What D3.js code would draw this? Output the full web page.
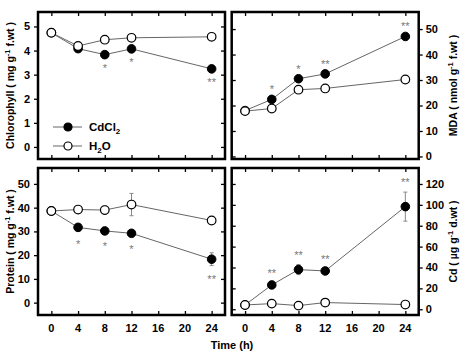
<!DOCTYPE html>
<html>
<head>
<meta charset="utf-8">
<script src="https://cdn.jsdelivr.net/npm/d3@7"></script>
<style>
  body { margin: 0; background: #fff; }
  svg { display: block; font-family: "Liberation Sans", Arial, sans-serif; }
</style>
</head>
<body>
<div class="chart-container"></div>
<script>
// --- Data ---
const times = [0, 4, 8, 12, 24];
const xTicks = [0, 4, 8, 12, 16, 20, 24];

const chlCd = [4.74, 4.08, 3.83, 4.07, 3.24];
const chlH2O = [4.74, 4.19, 4.45, 4.53, 4.57];
const chlStars = ["", "", "*", "*", "**"];

const mdaCd = [18, 22.4, 30.5, 32.4, 47.1];
const mdaH2O = [17.8, 18.8, 26.2, 26.7, 30.2];
const mdaStars = ["", "*", "*", "**", "**"];

const protCd = [38.6, 31.7, 30.2, 29.2, 18.3];
const protCdErr = [0.6, 1.5, 1.0, 1.0, 2.7];
const protH2O = [38.6, 39.2, 39.0, 41.3, 34.6];
const protH2OErr = [0.5, 0.8, 1.8, 4.7, 0.8];
const protStars = ["", "*", "*", "*", "**"];

const cdCd = [4.1, 23.3, 38, 36.7, 98.3];
const cdCdErr = [0, 1.5, 4.8, 2, 13.9];
const cdH2O = [4.1, 5.4, 3.5, 6.4, 4.5];
const cdStars = ["", "**", "**", "**", "**"];

const legendLabels = ["CdCl", "H"];

// --- Layout ---
const W = 466, H = 353;
const panels = [
    { x0: 38, x1: 225, y0: 12, y1: 159, yDomain: [-0.5, 5.6], yTicks: [0, 1, 2, 3, 4, 5],
      side: "left", cd: chlCd, h2o: chlH2O, cdErr: null, h2oErr: null, stars: chlStars, starPos: "below",
      title: ["Chlorophyll ( mg g", "-1", " f.wt )"], xLabels: false },
    { x0: 231.7, x1: 418.7, y0: 12, y1: 159, yDomain: [-1, 56.7], yTicks: [0, 10, 20, 30, 40, 50],
      side: "right", cd: mdaCd, h2o: mdaH2O, cdErr: null, h2oErr: null, stars: mdaStars, starPos: "above",
      title: ["MDA ( nmol g", "-1", " f.wt )"], xLabels: false },
    { x0: 38, x1: 225, y0: 168, y1: 315, yDomain: [-5.2, 56.7], yTicks: [0, 10, 20, 30, 40, 50],
      side: "left", cd: protCd, h2o: protH2O, cdErr: protCdErr, h2oErr: protH2OErr, stars: protStars, starPos: "below",
      title: ["Protein ( mg g", "-1", " f.wt )"], xLabels: true },
    { x0: 231.7, x1: 418.7, y0: 168, y1: 315, yDomain: [-5.5, 135.3], yTicks: [0, 20, 40, 60, 80, 100, 120],
      side: "right", cd: cdCd, h2o: cdH2O, cdErr: cdCdErr, h2oErr: null, stars: cdStars, starPos: "above",
      title: ["Cd ( \u00b5g g", "-1", " d.wt )"], xLabels: true }
];

const svg = d3.select(".chart-container").append("svg")
    .attr("width", W)
    .attr("height", H);

const TICK = 4;
const lineColor = "#666";

panels.forEach(p => {
    const x = d3.scaleLinear().domain([-2, 26]).range([p.x0, p.x1]);
    const y = d3.scaleLinear().domain(p.yDomain).range([p.y1, p.y0]);
    const g = svg.append("g");

    // ticks on all four sides
    const outerLeft = p.side === "left";
    // left border ticks
    g.append("g").attr("transform", `translate(${p.x0},0)`)
        .call(outerLeft ? d3.axisLeft(y).tickValues(p.yTicks).tickSize(TICK).tickFormat("")
                        : d3.axisRight(y).tickValues(p.yTicks).tickSize(TICK).tickFormat(""));
    // right border ticks
    g.append("g").attr("transform", `translate(${p.x1},0)`)
        .call(outerLeft ? d3.axisLeft(y).tickValues(p.yTicks).tickSize(TICK).tickFormat("")
                        : d3.axisRight(y).tickValues(p.yTicks).tickSize(TICK).tickFormat(""));
    // top / bottom ticks (inward)
    g.append("g").attr("transform", `translate(0,${p.y0})`)
        .call(d3.axisBottom(x).tickValues(xTicks).tickSize(TICK).tickFormat(""));
    g.append("g").attr("transform", `translate(0,${p.y1})`)
        .call(d3.axisTop(x).tickValues(xTicks).tickSize(TICK).tickFormat(""));
    g.selectAll(".domain").remove();
    g.selectAll(".tick line").attr("stroke", "#000").attr("stroke-width", 1.3);

    // y tick labels
    const lab = g.append("g").selectAll("text").data(p.yTicks).enter().append("text")
        .attr("y", d => y(d))
        .attr("dy", "0.36em")
        .attr("font-size", 11)
        .attr("font-weight", "bold")
        .text(d => d);
    if (p.side === "left") lab.attr("x", p.x0 - 8).attr("text-anchor", "end");
    else lab.attr("x", p.x1 + 7).attr("text-anchor", "start");

    // x tick labels
    if (p.xLabels) {
        g.append("g").selectAll("text").data(xTicks).enter().append("text")
            .attr("x", d => x(d))
            .attr("y", p.y1 + 17)
            .attr("text-anchor", "middle")
            .attr("font-size", 11)
            .attr("font-weight", "bold")
            .text(d => d);
    }

    // y title
    const tx = p.side === "left" ? 14 : 457;
    const ty = (p.y0 + p.y1) / 2;
    const t = g.append("text")
        .attr("transform", `translate(${tx},${ty}) rotate(-90)`)
        .attr("text-anchor", "middle")
        .attr("font-size", 10.5)
        .attr("font-weight", "bold");
    t.append("tspan").text(p.title[0]);
    t.append("tspan").attr("dy", -4).attr("font-size", 7.5).text(p.title[1]);
    t.append("tspan").attr("dy", 4).text(p.title[2]);

    // error bars
    function errBars(vals, errs) {
        if (!errs) return;
        const eb = g.append("g").attr("stroke", "#888").attr("stroke-width", 1);
        times.forEach((tt, i) => {
            if (!errs[i]) return;
            eb.append("line").attr("x1", x(tt)).attr("x2", x(tt))
                .attr("y1", y(vals[i] - errs[i])).attr("y2", y(vals[i] + errs[i]));
            [vals[i] - errs[i], vals[i] + errs[i]].forEach(v => {
                eb.append("line").attr("x1", x(tt) - 2).attr("x2", x(tt) + 2)
                    .attr("y1", y(v)).attr("y2", y(v));
            });
        });
    }
    errBars(p.cd, p.cdErr);
    errBars(p.h2o, p.h2oErr);

    const line = d3.line().x((d, i) => x(times[i])).y(d => y(d));
    [p.cd, p.h2o].forEach(series => {
        g.append("path").datum(series)
            .attr("d", line)
            .attr("fill", "none")
            .attr("stroke", lineColor)
            .attr("stroke-width", 1);
    });

    // markers: CdCl2 filled, H2O open on top
    g.append("g").selectAll("circle").data(p.cd).enter().append("circle")
        .attr("cx", (d, i) => x(times[i])).attr("cy", d => y(d)).attr("r", 4.3)
        .attr("fill", "#000").attr("stroke", "#000").attr("stroke-width", 1);
    g.append("g").selectAll("circle").data(p.h2o).enter().append("circle")
        .attr("cx", (d, i) => x(times[i])).attr("cy", d => y(d)).attr("r", 4.3)
        .attr("fill", "#fff").attr("stroke", "#000").attr("stroke-width", 1.2);

    // significance stars
    g.append("g").selectAll("text").data(p.stars).enter().append("text")
        .attr("x", (d, i) => x(times[i]))
        .attr("y", (d, i) => {
            const e = p.cdErr ? p.cdErr[i] : 0;
            return p.starPos === "above" ? y(p.cd[i] + e) - 6 : y(p.cd[i] - e) + 17;
        })
        .attr("text-anchor", "middle")
        .attr("font-size", 11)
        .attr("fill", "#777")
        .text(d => d);

    // frame
    g.append("rect")
        .attr("x", p.x0).attr("y", p.y0)
        .attr("width", p.x1 - p.x0).attr("height", p.y1 - p.y0)
        .attr("fill", "none").attr("stroke", "#000").attr("stroke-width", 2.5);
});

// legend in the first panel
const leg = svg.append("g");
const legRows = [
    { fill: "#000", y: 127, main: legendLabels[0], sub: "2", tail: "" },
    { fill: "#fff", y: 146, main: legendLabels[1], sub: "2", tail: "O" }
];
legRows.forEach(r => {
    leg.append("line").attr("x1", 53).attr("x2", 82).attr("y1", r.y).attr("y2", r.y)
        .attr("stroke", lineColor).attr("stroke-width", 1);
    leg.append("circle").attr("cx", 68).attr("cy", r.y).attr("r", 4)
        .attr("fill", r.fill).attr("stroke", "#000").attr("stroke-width", 1.2);
    const t = leg.append("text").attr("x", 89).attr("y", r.y).attr("dy", "0.36em")
        .attr("font-size", 11.5).attr("font-weight", "bold");
    t.append("tspan").text(r.main);
    t.append("tspan").attr("dy", 3).attr("font-size", 8).text(r.sub);
    if (r.tail) t.append("tspan").attr("dy", -3).text(r.tail);
});

// x title
svg.append("text")
    .attr("x", 232).attr("y", 349)
    .attr("text-anchor", "middle")
    .attr("font-size", 11)
    .attr("font-weight", "bold")
    .text("Time (h)");
</script>
</body>
</html>
